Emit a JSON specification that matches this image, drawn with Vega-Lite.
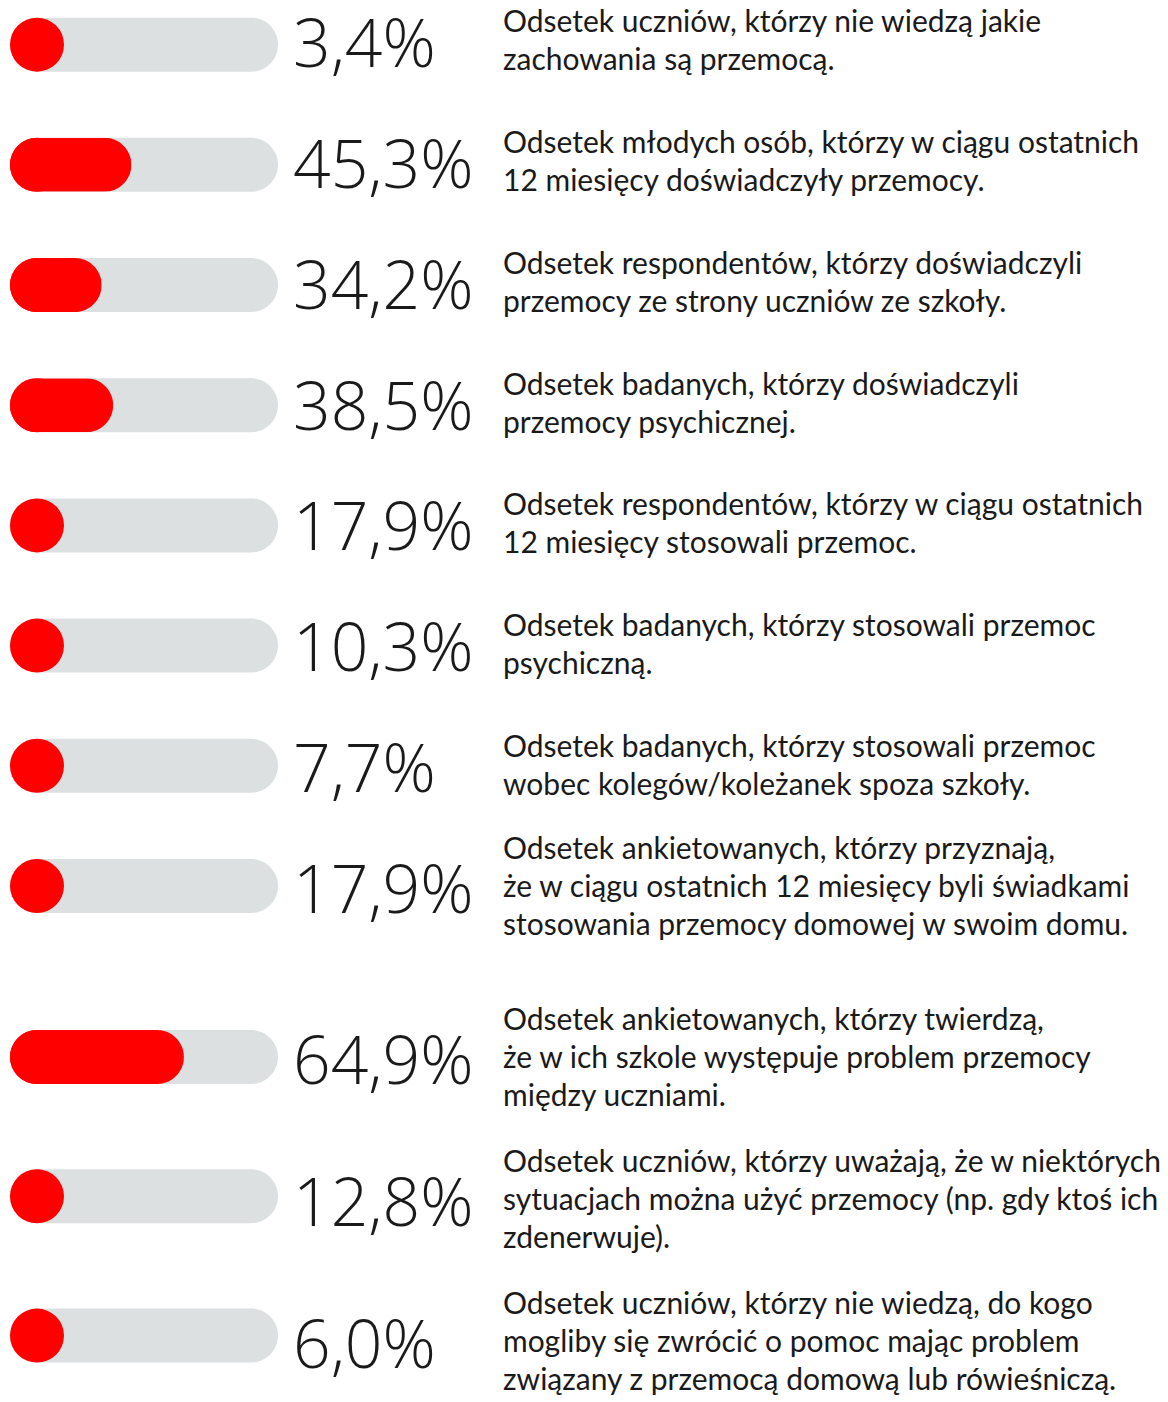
{
  "$schema": "https://vega.github.io/schema/vega-lite/v6.json",
  "padding": 0,
  "background": "white",
  "spacing": 0,
  "bounds": "flush",
  "config": {
    "view": {"stroke": null},
    "locale": {"number": {"decimal": ",", "thousands": " ", "grouping": [3], "currency": ["", " zł"]}}
  },
  "data": {
    "values": [
      {"row": 1, "share": 0.034, "desc": "Odsetek uczniów, którzy nie wiedzą jakie\nzachowania są przemocą."},
      {"row": 2, "share": 0.453, "desc": "Odsetek młodych osób, którzy w ciągu ostatnich\n12 miesięcy doświadczyły przemocy."},
      {"row": 3, "share": 0.342, "desc": "Odsetek respondentów, którzy doświadczyli\nprzemocy ze strony uczniów ze szkoły."},
      {"row": 4, "share": 0.385, "desc": "Odsetek badanych, którzy doświadczyli\nprzemocy psychicznej."},
      {"row": 5, "share": 0.179, "desc": "Odsetek respondentów, którzy w ciągu ostatnich\n12 miesięcy stosowali przemoc."},
      {"row": 6, "share": 0.103, "desc": "Odsetek badanych, którzy stosowali przemoc\npsychiczną."},
      {"row": 7, "share": 0.077, "desc": "Odsetek badanych, którzy stosowali przemoc\nwobec kolegów/koleżanek spoza szkoły."},
      {"row": 8, "share": 0.179, "desc": "Odsetek ankietowanych, którzy przyznają,\nże w ciągu ostatnich 12 miesięcy byli świadkami\nstosowania przemocy domowej w swoim domu."},
      {"row": 9, "share": 0.649, "desc": "Odsetek ankietowanych, którzy twierdzą,\nże w ich szkole występuje problem przemocy\nmiędzy uczniami."},
      {"row": 10, "share": 0.128, "desc": "Odsetek uczniów, którzy uważają, że w niektórych\nsytuacjach można użyć przemocy (np. gdy ktoś ich\nzdenerwuje)."},
      {"row": 11, "share": 0.06, "desc": "Odsetek uczniów, którzy nie wiedzą, do kogo\nmogliby się zwrócić o pomoc mając problem\nzwiązany z przemocą domową lub rówieśniczą."}
    ]
  },
  "hconcat": [
    {
      "width": 290,
      "height": 1402,
      "layer": [
        {
          "mark": {"type": "bar", "orient": "horizontal", "height": 54, "cornerRadius": 27, "color": "#dde0e1"},
          "encoding": {
            "y": {"field": "row", "type": "quantitative", "axis": null,
                  "scale": {"domain": [1, 8, 9, 11], "range": [40, 886, 1057, 1341], "zero": false, "nice": false}},
            "x": {"datum": 1, "type": "quantitative", "axis": null,
                  "scale": {"domain": [0, 1], "range": [10, 278], "nice": false, "zero": false}}
          }
        },
        {
          "transform": [{"filter": "datum.share >= 0.2"}],
          "mark": {"type": "bar", "orient": "horizontal", "height": 54, "cornerRadius": 27, "color": "#ff0000"},
          "encoding": {
            "y": {"field": "row", "type": "quantitative"},
            "x": {"field": "share", "type": "quantitative"}
          }
        },
        {
          "mark": {"type": "point", "shape": "circle", "filled": true, "opacity": 1, "size": 2916, "xOffset": 27, "color": "#ff0000"},
          "encoding": {
            "y": {"field": "row", "type": "quantitative"},
            "x": {"datum": 0, "type": "quantitative"}
          }
        }
      ]
    },
    {
      "width": 210,
      "height": 1402,
      "mark": {"type": "text", "align": "left", "baseline": "middle", "font": "Open Sans", "fontWeight": 300, "fontSize": 66, "color": "#1a1a1a", "dy": 7},
      "encoding": {
        "x": {"value": 3},
        "y": {"field": "row", "type": "quantitative", "axis": null,
              "scale": {"domain": [1, 8, 9, 11], "range": [40, 886, 1057, 1341], "zero": false, "nice": false}},
        "text": {"field": "share", "type": "quantitative", "format": ".1%"}
      }
    },
    {
      "width": 668,
      "height": 1402,
      "encoding": {
        "x": {"value": 3},
        "y": {"field": "row", "type": "quantitative", "axis": null,
              "scale": {"domain": [1, 8, 9, 11], "range": [40, 886, 1057, 1341], "zero": false, "nice": false}},
        "text": {"field": "desc", "type": "nominal"}
      },
      "layer": [
        {
          "transform": [{"filter": "split(datum.desc, '\\n').length == 2"}],
          "mark": {"type": "text", "align": "left", "baseline": "middle", "font": "Lato", "fontSize": 30, "lineHeight": 38, "lineBreak": "\n", "color": "#1a1a1a", "dy": -17}
        },
        {
          "transform": [{"filter": "split(datum.desc, '\\n').length == 3"}],
          "mark": {"type": "text", "align": "left", "baseline": "middle", "font": "Lato", "fontSize": 30, "lineHeight": 38, "lineBreak": "\n", "color": "#1a1a1a", "dy": -36}
        }
      ]
    }
  ]
}
